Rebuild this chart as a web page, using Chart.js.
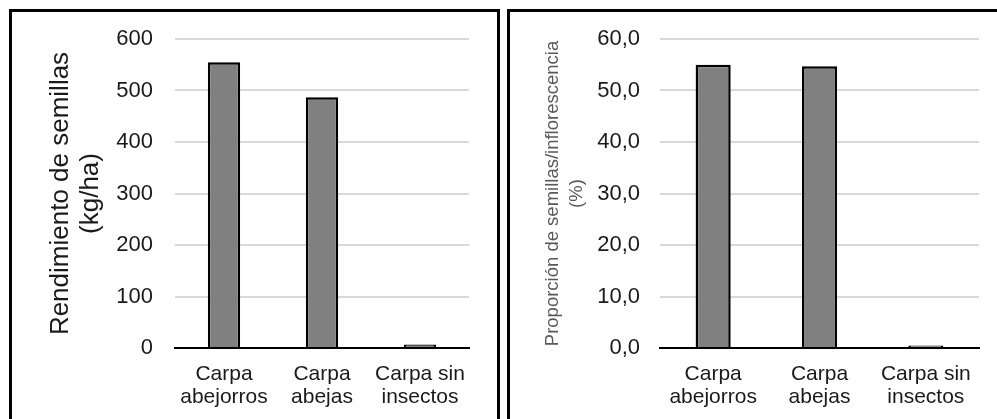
<!DOCTYPE html>
<html>
<head>
<meta charset="utf-8">
<script src="https://cdn.jsdelivr.net/npm/chart.js@4.4.1/dist/chart.umd.min.js"></script>
<style>
  html, body { margin: 0; padding: 0; background: #fff; overflow: hidden; width: 997px; height: 419px; }
  .box { position: absolute; top: 9px; border: 3px solid #000; background: #fff; }
  #box1 { left: 9px; width: 485px; height: 420px; }
  #box2 { left: 507px; width: 500px; height: 420px; }
  canvas { position: absolute; left: 0; top: 0; }
</style>
</head>
<body>
<div class="box" id="box1"><canvas id="chart1" width="485" height="407"></canvas></div>
<div class="box" id="box2"><canvas id="chart2" width="487" height="407"></canvas></div>
<script>
let categories = [['Carpa', 'abejorros'], ['Carpa', 'abejas'], ['Carpa sin', 'insectos']];
let rendimiento = [555, 487, 7];
let proporcion = [55.0, 54.7, 0.5];

let fontFamily = "'Liberation Sans', Arial, sans-serif";

function makeChart(id, values, opts) {
    let ctx = document.getElementById(id).getContext('2d');
    return new Chart(ctx, {
        type: 'bar',
        data: {
            labels: categories,
            datasets: [{
                data: values,
                backgroundColor: '#808080',
                borderColor: '#000000',
                borderWidth: 2.5,
                barPercentage: 0.33,
                categoryPercentage: 1
            }]
        },
        options: {
            responsive: false,
            animation: false,
            events: [],
            layout: { padding: { top: 27, right: opts.padRight, bottom: 0, left: 0 } },
            plugins: {
                legend: { display: false },
                tooltip: { enabled: false }
            },
            scales: {
                x: {
                    grid: { display: false, drawTicks: false },
                    border: { display: true, color: '#000000', width: 2 },
                    ticks: {
                        color: '#1a1a1a',
                        padding: 15,
                        maxRotation: 0,
                        autoSkip: false,
                        font: { family: fontFamily, size: 21, lineHeight: 1.08 }
                    },
                    afterFit: function (scale) { scale.height = 71; }
                },
                y: {
                    min: 0,
                    max: opts.max,
                    grid: { color: '#d9d9d9', lineWidth: 2, drawTicks: false },
                    border: { display: false },
                    ticks: {
                        stepSize: opts.step,
                        color: '#1a1a1a',
                        padding: opts.tickPad,
                        font: { family: fontFamily, size: 22 },
                        callback: opts.format
                    },
                    title: {
                        display: true,
                        text: opts.title,
                        color: opts.titleColor,
                        padding: { top: opts.titlePad, bottom: 0 },
                        font: { family: fontFamily, size: opts.titleSize, lineHeight: opts.titleLine }
                    },
                    afterFit: function (scale) {
                        scale.width = opts.axisWidth;
                        // tick padding is horizontal only here, keep it out of the top/bottom space
                        scale.paddingTop = 10;
                        scale.paddingBottom = 10;
                    }
                }
            }
        }
    });
}

let chart1 = makeChart('chart1', rendimiento, {
    max: 600,
    step: 100,
    tickPad: 22,
    padRight: 28,
    axisWidth: 163,
    title: ['Rendimiento de semillas', '(kg/ha)'],
    titleColor: '#1a1a1a',
    titleSize: 26,
    titleLine: 1.15,
    titlePad: 34,
    format: function (v) { return v; }
});

let chart2 = makeChart('chart2', proporcion, {
    max: 60,
    step: 10,
    tickPad: 20,
    padRight: 18,
    axisWidth: 150,
    title: ['Proporción de semillas/inflorescencia', '(%)'],
    titleColor: '#595959',
    titleSize: 18.5,
    titleLine: 1.3,
    titlePad: 31,
    format: function (v) { return v.toFixed(1).replace('.', ','); }
});
</script>
</body>
</html>
